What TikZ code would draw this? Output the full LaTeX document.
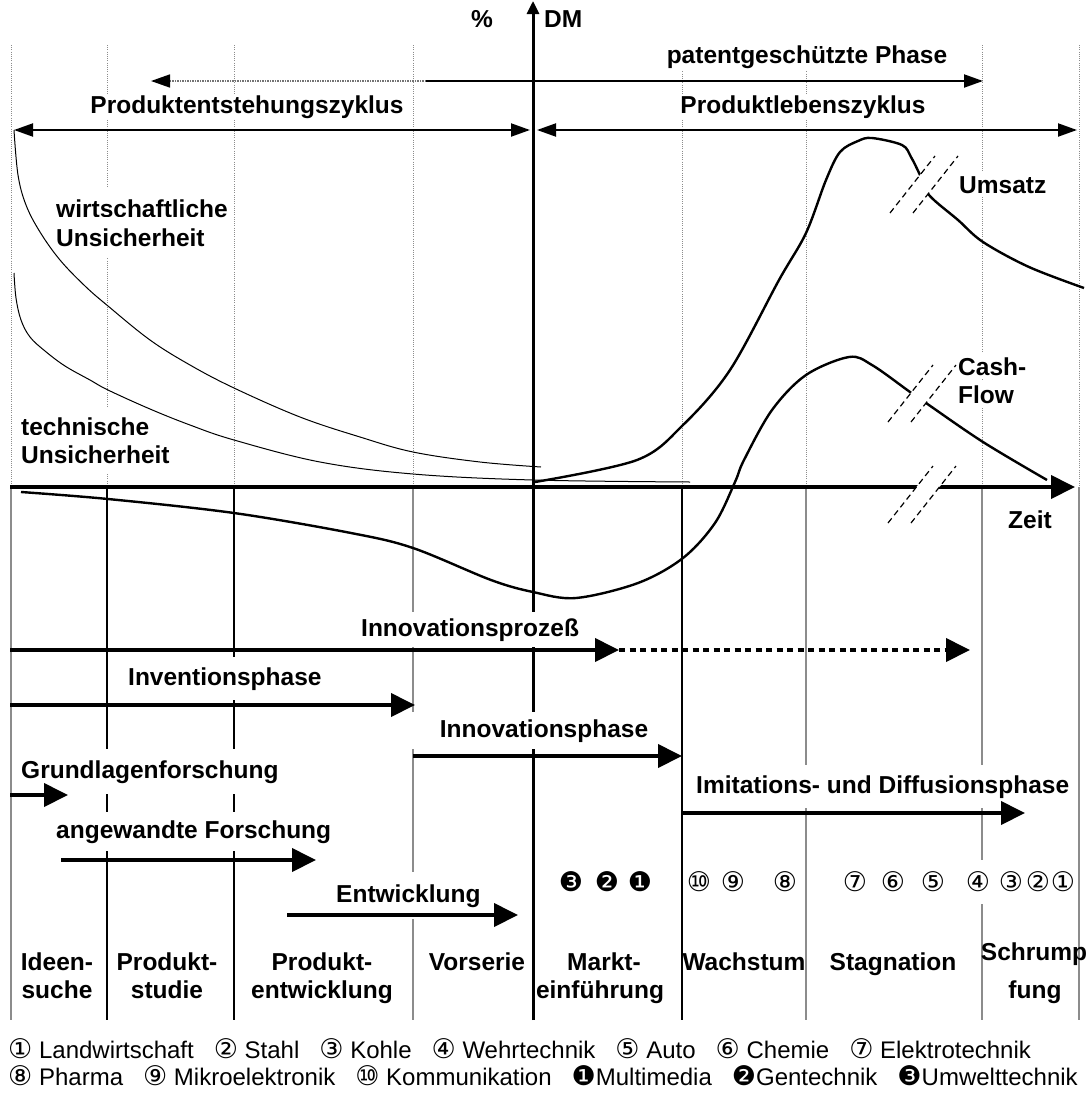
\documentclass[tikz,border=0pt]{standalone}
\usepackage{fontspec}
\setmainfont{Liberation Sans}
\newfontfamily\symfont{DejaVu Sans}
\usetikzlibrary{arrows.meta}
\newcommand\circnum[1]{{\symfont\fontsize{27}{27}\selectfont #1}}
\newcommand\legsep{\hspace{20pt}}

\begin{document}
\begin{tikzpicture}[x=1pt, y=-1pt,
  bigtip/.tip={Triangle[length=24pt,width=23pt]},
  spantip/.tip={Triangle[length=19pt,width=13pt]},
  axtip/.tip={Triangle[length=13pt,width=12pt]},
  lbl/.style={font=\fontsize{24.5}{29}\selectfont\bfseries, inner sep=0pt, anchor=base},
  lblw/.style={lbl, anchor=base west},
  cov/.style={fill=white, inner xsep=4pt, inner ysep=#1},
  cov/.default=6pt,
  leg/.style={font=\fontsize{24}{29}\selectfont, inner sep=0pt, anchor=base west},
  symrow/.style={fill=white, inner xsep=2pt, inner ysep=0pt, minimum height=44pt},
  gridup/.style={black!45, line width=0.9pt, dash pattern=on 1pt off 1.2pt},
  griddown/.style={line width=1.1pt},
  phasearrow/.style={line width=4pt, -bigtip},
  spanline/.style={line width=2pt},
  salescurve/.style={line width=2.4pt, line join=round},
  riskcurve/.style={line width=1pt},
  brk/.style={line width=1.2pt, dash pattern=on 6pt off 4pt},
]
\useasboundingbox (0,0) rectangle (1086,1093);

% phase columns: dotted above the time axis, solid below
\foreach \gx/\gc in {11/black!45, 107/black, 234/black, 413/black!45, 682/black, 806/black!45, 982/black!45, 1079/black!45}{
  \draw[gridup] (\gx,45) -- (\gx,487);
  \draw[griddown,\gc] (\gx,487) -- (\gx,1020);
}

% value axis
\coordinate (ybot) at (533,1020);
\coordinate (ytop) at (533,1);
\draw[line width=3pt, -axtip] (ybot) -- (ytop);
\node[lbl, anchor=base east] (pct) at (493,27) {\%};
\node[lblw] (dm) at (544,27) {DM};

% labels that interrupt the column lines
\node[lbl, cov=3pt] (patent) at (807,63) {patentgeschützte Phase};
\node[lbl, cov=1pt] (pez) at (247,113) {Produktentstehungszyklus};
\node[lbl, cov=1pt] (plz) at (803,113) {Produktlebenszyklus};
\node[lblw, cov=11pt] (wirt1) at (52,217) {wirtschaftliche};
\node[lblw, cov=11pt] (wirt2) at (52,246) {Unsicherheit};
\node[lblw, cov=10pt] (tech1) at (17,435) {technische};
\node[lblw, cov=10pt] (tech2) at (17,463) {Unsicherheit};
\node[lblw, cov=4pt] (ums) at (955,193) {Umsatz};
\node[lblw, cov=4pt] (cash1) at (954,375) {Cash-};
\node[lblw, cov=4pt] (cash2) at (954,403) {Flow};
\node[lblw] (zeit) at (1008,528) {Zeit};
\node[lblw, cov=6pt] (innoproz) at (357,636) {Innovationsprozeß};
\node[lblw, cov=10pt] (invph) at (124,685) {Inventionsphase};
\node[lbl, cov=7pt, minimum width=266pt] (innoph) at (544,737) {Innovationsphase};
\node[lblw, cov=11pt] (grund) at (17,778) {Grundlagenforschung};
\node[lblw, cov=10pt] (imit) at (692,793) {Imitations- und Diffusionsphase};
\node[lblw, cov=8pt] (angew) at (52,838) {angewandte Forschung};
\node[lblw, cov=12pt] (entw) at (332,902) {Entwicklung};

% span arrows at the top
\coordinate (pl) at (151,81);
\coordinate (pm) at (426,81);
\coordinate (pr) at (983,81);
\draw[black!55, line width=1.6pt, dash pattern=on 1.5pt off 1pt,
      -{Triangle[length=19pt,width=13pt,color=black]}] (pm) -- (pl);
\draw[spanline, -spantip] (pm) -- (pr);
\coordinate (al) at (14,130);
\coordinate (ar) at (530,130);
\coordinate (bl) at (537,130);
\coordinate (br) at (1077,130);
\draw[spanline, spantip-spantip] (al) -- (ar);
\draw[spanline, spantip-spantip] (bl) -- (br);

% uncertainty curves
\draw[riskcurve] plot[smooth, tension=0.6] coordinates {
  (14,130) (18,175) (26,205) (40,232) (60,260) (85,286) (108,306)
  (150,340) (190,365) (234,388) (300,417) (360,437) (413,452) (480,462) (541,467)};
\draw[riskcurve] plot[smooth, tension=0.6] coordinates {
  (14,273) (16,298) (21,320) (30,337) (45,351) (65,366) (90,380) (108,390)
  (150,409) (190,425) (234,440) (320,462) (413,474) (533,480) (690,482)};

% time axis
\coordinate (x0) at (10,487);
\coordinate (x1) at (1075,487);
\draw[line width=4pt, -bigtip] (x0) -- (x1);

% sales and cash flow
\draw[salescurve] plot[smooth, tension=0.55] coordinates {
  (535,482) (637,460) (683,425) (730,370) (779,280) (806,233) (826,180)
  (840,152) (858,141) (872,138) (902,145) (911,157) (920,175) (929,195)
  (958,220) (983,242) (1029,267) (1084,288)};
\draw[salescurve] plot[smooth, tension=0.55] coordinates {
  (21,492) (108,499) (234,513) (351,533) (413,548) (491,580) (533,592)
  (576,598) (638,583) (683,558) (715,523) (735,482) (744,460) (772,410)
  (806,375) (849,357) (872,365) (910,392) (926,403) (983,442) (1047,480)};

% axis breaks
\foreach \bx/\by in {890/213, 888/422, 888/523}{
  \fill[white] (\bx,\by) -- ++(45,-57) -- ++(23,0) -- ++(-45,57) -- cycle;
  \draw[brk] (\bx,\by) -- ++(45,-57);
  \draw[brk] (\bx+23,\by) -- ++(45,-57);
}

% phase arrows
\coordinate (ip0) at (10,650);
\coordinate (ip1) at (619,650);
\coordinate (ip2) at (970,650);
\draw[phasearrow] (ip0) -- (ip1);
\draw[phasearrow, dash pattern=on 6pt off 4.5pt] (ip1) -- (ip2);
\coordinate (iv0) at (10,705);
\coordinate (iv1) at (415,705);
\draw[phasearrow] (iv0) -- (iv1);
\coordinate (in0) at (413,756);
\coordinate (in1) at (682,756);
\draw[phasearrow] (in0) -- (in1);
\coordinate (gf0) at (10,795);
\coordinate (gf1) at (68,795);
\draw[phasearrow] (gf0) -- (gf1);
\coordinate (im0) at (682,813);
\coordinate (im1) at (1025,813);
\draw[phasearrow] (im0) -- (im1);
\coordinate (af0) at (61,860);
\coordinate (af1) at (316,860);
\draw[phasearrow] (af0) -- (af1);
\coordinate (ew0) at (287,915);
\coordinate (ew1) at (518,915);
\draw[phasearrow] (ew0) -- (ew1);

% industries by phase
\foreach \sx/\sy/\sn in {571/❸/u3, 607/❷/u2, 640/❶/u1, 699/⑩/n10, 733/⑨/n9, 785/⑧/n8,
  855/⑦/n7, 893/⑥/n6, 933/⑤/n5, 978/④/n4, 1011/③/n3, 1038/②/n2, 1063/①/n1}{
  \node[symrow] (\sn) at (\sx,882) {\circnum{\sy}};
}

% phase names
\node[lbl] (b1a) at (57,970) {Ideen-};
\node[lbl] (b1b) at (57,998) {suche};
\node[lbl] (b2a) at (167,970) {Produkt-};
\node[lbl] (b2b) at (167,998) {studie};
\node[lbl] (b3a) at (322,970) {Produkt-};
\node[lbl] (b3b) at (322,998) {entwicklung};
\node[lbl] (b4) at (477,970) {Vorserie};
\node[lbl] (b5a) at (604,970) {Markt-};
\node[lbl] (b5b) at (600,998) {einführung};
\node[lbl] (b6) at (744,970) {Wachstum};
\node[lbl] (b7) at (893,970) {Stagnation};
\node[lbl] (b8a) at (1034,960) {Schrump};
\node[lbl] (b8b) at (1035,998) {fung};

% legend
\node[leg] (key1) at (8,1058) {\circnum{①} Landwirtschaft\legsep\circnum{②} Stahl\legsep\circnum{③} Kohle\legsep\circnum{④} Wehrtechnik\legsep\circnum{⑤} Auto\legsep\circnum{⑥} Chemie\legsep\circnum{⑦} Elektrotechnik};
\node[leg] (key2) at (8,1085) {\circnum{⑧} Pharma\legsep\circnum{⑨} Mikroelektronik\legsep\circnum{⑩} Kommunikation\legsep\circnum{❶}Multimedia\legsep\circnum{❷}Gentechnik\legsep\circnum{❸}Umwelttechnik};
\end{tikzpicture}
\end{document}
